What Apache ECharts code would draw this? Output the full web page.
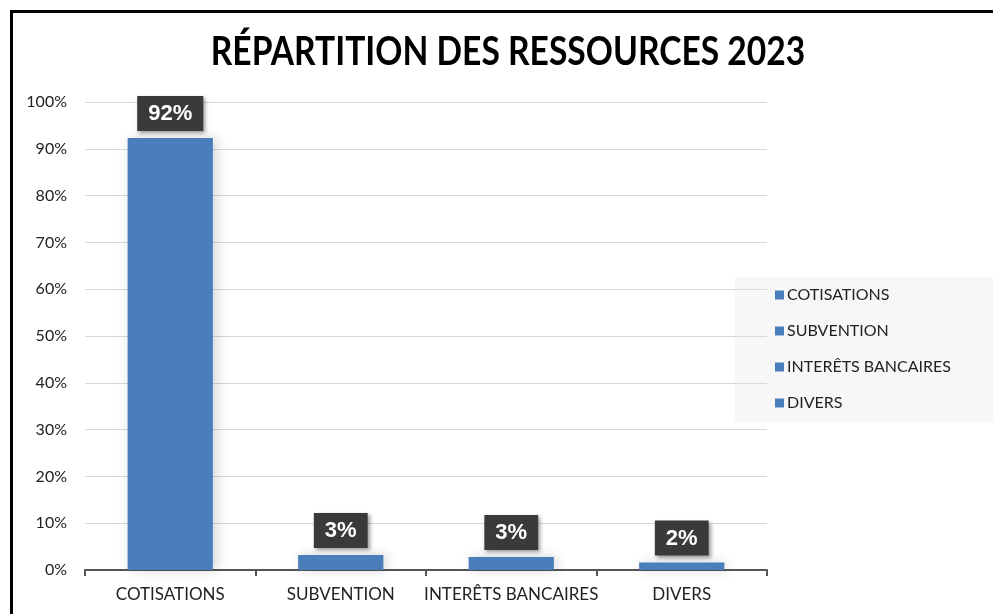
<!DOCTYPE html>
<html>
<head>
<meta charset="utf-8">
<script src="https://cdn.jsdelivr.net/npm/echarts@6/dist/echarts.min.js"></script>
<style>
  html, body { margin: 0; padding: 0; background: #fff; }
  #chart { width: 993px; height: 614px; }
</style>
</head>
<body>
<div id="chart"></div>
<script>
// catégories et valeurs (part des ressources)
const categories = ['COTISATIONS', 'SUBVENTION', 'INTERETS BANCAIRES', 'DIVERS']
const legendNames = ['COTISATIONS', 'SUBVENTION', 'INTERÊTS BANCAIRES', 'DIVERS']
const values = [0.923, 0.032, 0.028, 0.016]
const valueLabels = ['92%', '3%', '3%', '2%']
const yTicks = [0, 0.1, 0.2, 0.3, 0.4, 0.5, 0.6, 0.7, 0.8, 0.9, 1]

const mChart = echarts.init(document.getElementById('chart'))

const barColor = '#4a7ebb'
const font = 'Lato, "Open Sans", sans-serif'

// une série par catégorie pour avoir une entrée de légende chacune
const series = legendNames.map((name, i) => ({
  name: name,
  type: 'bar',
  stack: 'total',
  barWidth: '50%',
  data: categories.map((c, j) => (j === i ? values[i] : '-')),
  itemStyle: {
    color: barColor,
    shadowBlur: 12,
    shadowColor: 'rgba(0,0,0,0.18)',
    shadowOffsetX: 3
  },
  label: {
    show: true,
    position: 'top',
    distance: 7,
    formatter: () => valueLabels[i],
    color: '#fff',
    fontFamily: '"Liberation Sans", Arial, sans-serif',
    fontWeight: 'bold',
    fontSize: 22,
    backgroundColor: '#3a3a3a',
    padding: [7, 11, 6, 11],
    shadowBlur: 4,
    shadowColor: 'rgba(0,0,0,0.4)',
    shadowOffsetX: 2,
    shadowOffsetY: 2
  }
}))

const option = {
  backgroundColor: '#fff',
  animation: false,
  graphic: [
    {
      type: 'rect',
      shape: { x: 11.5, y: 11.5, width: 1100, height: 700 },
      style: { fill: 'none', stroke: '#000', lineWidth: 3 },
      silent: true
    },
    {
      type: 'rect',
      shape: { x: 735, y: 277, width: 258, height: 145 },
      style: { fill: '#f7f7f7' },
      silent: true,
      z: -1
    },
    // titre condensé (police étroite simulée)
    {
      type: 'text',
      x: 508,
      y: 52,
      scaleX: 0.84,
      silent: true,
      style: {
        text: 'RÉPARTITION DES RESSOURCES 2023',
        align: 'center',
        verticalAlign: 'middle',
        fontFamily: 'Lato, sans-serif',
        fontWeight: 'bold',
        fontSize: 40,
        fill: '#000'
      }
    }
  ],
  legend: {
    orient: 'vertical',
    left: 775,
    top: 287,
    padding: 0,
    itemWidth: 9,
    itemHeight: 9,
    itemGap: 20,
    icon: 'rect',
    data: legendNames,
    selectedMode: false,
    textStyle: {
      fontFamily: font,
      fontSize: 16,
      color: '#222',
      padding: [0, 0, 0, -2]
    }
  },
  grid: {
    left: 85,
    right: 226,
    top: 102,
    bottom: 44,
    containLabel: false
  },
  xAxis: {
    type: 'category',
    data: categories,
    axisLine: { lineStyle: { color: '#555', width: 2 } },
    axisTick: { show: true, length: 6, lineStyle: { color: '#555', width: 2 } },
    axisLabel: {
      interval: 0,
      margin: 16,
      fontFamily: font,
      fontSize: 17,
      color: '#222',
      formatter: (v, i) => legendNames[i]
    }
  },
  yAxis: {
    type: 'value',
    min: yTicks[0],
    max: yTicks[yTicks.length - 1],
    interval: 0.1,
    axisLine: { show: false },
    axisTick: { show: false },
    splitLine: { lineStyle: { color: '#d9d9d9', width: 1 } },
    axisLabel: {
      margin: 18,
      fontFamily: font,
      fontSize: 16,
      color: '#222',
      formatter: (v) => Math.round(v * 100) + '%'
    }
  },
  series: series
}

mChart.setOption(option)
</script>
</body>
</html>
